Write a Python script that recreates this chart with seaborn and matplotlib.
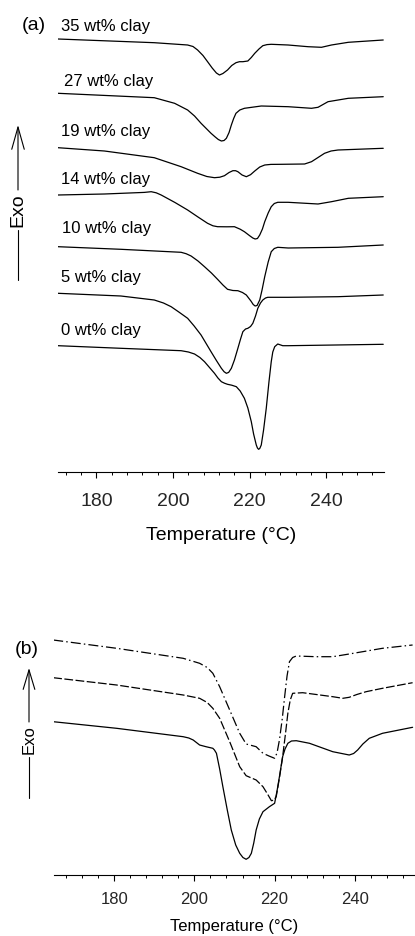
import matplotlib
matplotlib.use("Agg")
import matplotlib.pyplot as plt
import seaborn as sns
from matplotlib.patches import FancyArrowPatch
from matplotlib.ticker import MultipleLocator

# ---- panel (a): DSC heating traces, one per clay loading (heat flow in a.u., offset) ----
t_35 = [170, 195.1, 203.8, 205.2, 206.4, 207.8, 209.0, 210.2, 211.3, 212.1, 213.0, 214.2, 215.3, 216.4, 217.3, 218.2, 219.5, 220.4, 221.3, 222.4, 223.4, 224.5, 225.6, 230.0, 235.2, 238.7, 241.3, 245.7, 254.8]
h_35 = [433, 429.3, 427, 425.5, 422, 416.5, 410.3, 404, 399, 397, 398.5, 402, 406.5, 409.3, 410.3, 410.3, 411, 414.5, 418.7, 423, 426.3, 427.4, 427.7, 427, 425.3, 424.7, 427, 429.7, 432]

t_27 = [170, 195.1, 200.4, 203.8, 205.6, 207.3, 209.9, 211.0, 211.8, 212.6, 213.3, 213.9, 214.6, 215.2, 215.8, 216.4, 217.4, 218.6, 223.0, 230.0, 236.1, 237.8, 240.4, 245.7, 254.8]
h_27 = [378.7, 374.3, 368.7, 362, 356, 348.7, 338.7, 335, 332.5, 331, 331.5, 333.7, 339.5, 347, 353.5, 358.7, 362, 363.7, 366, 365.3, 363.7, 364.7, 370.3, 373.7, 375.3]

t_19 = [170, 182.1, 195.1, 202.1, 206.4, 208.8, 210.8, 212.2, 213.4, 214.6, 215.6, 216.3, 216.9, 218.0, 219.1, 220.2, 221.3, 222.6, 223.9, 225.5, 228.2, 234.3, 236.1, 237.8, 239.5, 241.2, 243.0, 254.8]
h_19 = [324.3, 321, 314.3, 305.3, 298.7, 295.5, 294.3, 294.8, 296.3, 299.5, 301.3, 301.3, 300.3, 297, 295.3, 297.3, 301, 305, 307, 307.6, 307.7, 308, 310.3, 314.5, 318.7, 321, 322, 323.7]

t_14 = [170, 182.1, 192.5, 194.3, 195.6, 196.9, 200.5, 203.8, 206.5, 209.0, 210.4, 211.6, 214.0, 216.0, 217.5, 218.6, 220.0, 220.8, 221.4, 222.0, 222.6, 223.3, 223.9, 224.8, 225.6, 226.4, 227.3, 230.0, 237.8, 241.3, 245.7, 254.8]
h_14 = [277, 278, 279.6, 280.3, 279.2, 277, 269.5, 262, 255, 248.7, 246.2, 245.3, 245.2, 245.3, 242.8, 240.3, 236.2, 234, 233, 233.5, 237, 243, 250.3, 259, 265.3, 268.5, 269.7, 269.7, 268, 270.3, 273.7, 275.3]

t_10 = [170, 186.4, 202.1, 203.4, 204.7, 206.5, 208.2, 210.0, 211.6, 213.0, 214.2, 215.6, 216.9, 218.1, 219.1, 220.3, 220.9, 221.4, 221.9, 222.6, 223.2, 223.9, 224.8, 225.6, 226.4, 227.3, 230.0, 243.0, 254.8]
h_10 = [225.3, 222.7, 219.7, 218.3, 216, 211, 205.3, 199, 192.7, 187, 182.7, 181.5, 181.3, 179.5, 177, 171, 167.5, 166, 166.5, 172, 182, 195.3, 210, 220.3, 223.5, 224.7, 224, 224.7, 227]

t_5 = [170, 186.4, 195.1, 197.5, 199.5, 201.5, 203.8, 205.5, 207.3, 209.9, 211.3, 212.6, 213.3, 213.9, 214.5, 215.2, 216.0, 216.9, 217.6, 218.2, 218.9, 219.5, 220.2, 220.8, 221.5, 222.1, 222.8, 223.4, 224.1, 224.7, 230.0, 243.0, 254.8]
h_5 = [178.7, 176, 172, 169, 165.3, 160, 153.7, 146, 137, 120.3, 111.5, 103.7, 100.3, 98.7, 99.6, 103.7, 112, 123.7, 133, 140.3, 143, 143.7, 145.5, 148.7, 156, 163.7, 169, 172, 174, 174.7, 174.7, 175.3, 177]

t_0 = [170, 186.4, 202.1, 204.0, 205.6, 207.0, 208.2, 209.5, 210.8, 211.7, 212.6, 213.4, 214.2, 215.3, 216.5, 217.5, 218.6, 219.5, 220.4, 221.0, 221.7, 222.0, 222.3, 222.6, 223.0, 223.6, 224.3, 225.0, 225.6, 226.0, 226.5, 227.3, 228.6, 230.0, 254.8]
h_0 = [126.3, 123.7, 121.3, 120, 118, 114.5, 110.3, 104.5, 98.7, 94, 90.3, 88.8, 87.7, 86.8, 85.3, 81, 73.7, 64, 50.3, 38, 27, 24, 22.7, 23.5, 27, 42, 63.7, 90, 110.3, 120, 125.3, 128, 126.3, 126.3, 127.7]

labels_a = ["35 wt% clay", "27 wt% clay", "19 wt% clay", "14 wt% clay",
            "10 wt% clay", "5 wt% clay", "0 wt% clay"]
label_x_a = [170.9, 171.6, 170.9, 170.9, 171.1, 170.9, 170.9]
label_y_a = [441, 386, 336, 288, 238.7, 190.3, 137]

# ---- panel (b): three traces ----
t_solid = [164.8, 180.6, 197.2, 198.6, 199.7, 200.5, 201.3, 202.9, 204.6, 205.0, 205.5, 206.3, 207.1, 208.2, 209.2, 210.3, 211.3, 212.1, 212.9, 213.6, 214.2, 214.8, 215.4, 216.2, 217.1, 218.7, 220.0, 220.6, 221.2, 222.0, 222.6, 223.3, 224.2, 225.4, 228.7, 234.5, 238.6, 239.7, 240.7, 242.0, 243.6, 246.9, 254.4]
h_solid = [153.3, 146.7, 138.3, 137, 135, 132.5, 130, 128.3, 126.7, 125, 121.7, 106, 88.3, 65, 45, 30, 21.7, 17.5, 15.7, 17.5, 21.7, 32, 45, 56, 63.3, 68.3, 71.7, 84, 98.3, 118.3, 126, 131.7, 134, 134.3, 131.7, 123.3, 120, 121.5, 125, 131, 136.7, 141.7, 147.7]

t_dash = [164.8, 180.6, 197.2, 201.3, 203.2, 204.6, 206.3, 208.8, 211.3, 212.9, 215.4, 217.1, 218.3, 219.2, 219.8, 220.4, 221.2, 222.0, 222.7, 223.3, 223.9, 224.5, 227.0, 234.5, 237.0, 238.6, 240.5, 242.8, 246.9, 254.4]
h_dash = [197.3, 190, 180, 176.7, 172.5, 166.7, 156.7, 133.3, 108.3, 99.3, 95, 88.3, 80.5, 74.3, 74.8, 78.3, 97, 118.3, 141, 161.7, 175, 181.7, 182.3, 178.3, 176.7, 177.7, 180.5, 183.3, 186.7, 192.3]

t_dashdot = [164.8, 180.6, 197.2, 201.3, 203.2, 204.6, 206.3, 208.8, 211.3, 212.9, 215.4, 217.1, 218.6, 220.0, 220.6, 221.2, 221.9, 222.5, 223.1, 223.7, 224.5, 225.4, 230.3, 234.5, 238.6, 246.9, 254.4]
h_dashdot = [235, 226.7, 216.7, 211.7, 207.5, 201.7, 188.3, 165, 141.7, 131, 128.3, 121.7, 119, 116.7, 122, 135, 156, 178.3, 199, 213.3, 217.5, 219, 218.3, 218.3, 221, 226.7, 230]

sns.set_theme(style="white")
plt.rcParams["font.family"] = ["Liberation Sans", "DejaVu Sans"]

W, H = 415, 936
fig = plt.figure(figsize=(W / 100, H / 100), dpi=100)


def style_axis(ax, fs, major_len, minor_len, pad):
    sns.despine(ax=ax, left=True, top=True, right=True)
    ax.spines["bottom"].set_color("black")
    ax.spines["bottom"].set_linewidth(0.8)
    ax.set_yticks([])
    ax.xaxis.set_major_locator(MultipleLocator(20))
    ax.xaxis.set_minor_locator(MultipleLocator(4))
    ax.tick_params(axis="x", which="major", direction="out", length=major_len,
                   width=0.8, color="black", labelsize=fs, pad=pad, bottom=True)
    ax.tick_params(axis="x", which="minor", direction="out", length=minor_len,
                   width=0.7, color="black", bottom=True)
    ax.set_facecolor("white")
    ax.set_ylabel("")


def exo_arrow(x, tip, shaft_end, txt_y, line_top, line_bot, fs, hl, hw):
    arr = FancyArrowPatch((x / W, 1 - shaft_end / H), (x / W, 1 - tip / H),
                          transform=fig.transFigure, color="black", lw=0.8,
                          arrowstyle=f"->,head_length={hl},head_width={hw}",
                          mutation_scale=1, shrinkA=0, shrinkB=0)
    fig.add_artist(arr)
    fig.add_artist(plt.Line2D([x / W, x / W], [1 - line_top / H, 1 - line_bot / H],
                              transform=fig.transFigure, color="black", lw=0.8))
    fig.text(x / W, 1 - txt_y / H, "Exo", rotation=90, ha="center", va="center",
             fontsize=fs, color="black")


# panel (a)
ax1 = fig.add_axes([58 / W, 1 - 472 / H, 326 / W, 442 / H])
for t, h in [(t_35, h_35), (t_27, h_27), (t_19, h_19), (t_14, h_14),
             (t_10, h_10), (t_5, h_5), (t_0, h_0)]:
    sns.lineplot(x=t, y=h, ax=ax1, color="black", lw=0.9)
for lab, lx, ly in zip(labels_a, label_x_a, label_y_a):
    ax1.text(lx, ly, lab, fontsize=12, ha="left", va="baseline", color="black")
ax1.set_xlim(170, 255)
ax1.set_ylim(0, 442)
style_axis(ax1, 14, 4, 2.2, 11)
ax1.set_xlabel("Temperature (°C)", fontsize=14, labelpad=12, color="black")

# panel (b)
ax2 = fig.add_axes([54 / W, 1 - 875 / H, 361 / W, 245 / H])
sns.lineplot(x=t_dashdot, y=h_dashdot, ax=ax2, color="black", lw=0.9,
             linestyle=(0, (8, 2.5, 1.2, 2.5)))
sns.lineplot(x=t_dash, y=h_dash, ax=ax2, color="black", lw=0.9,
             linestyle=(0, (7, 2)))
sns.lineplot(x=t_solid, y=h_solid, ax=ax2, color="black", lw=0.9)
ax2.set_xlim(165, 255)
ax2.set_ylim(0, 245)
style_axis(ax2, 12, 4, 1.8, 8.5)
ax2.set_xlabel("Temperature (°C)", fontsize=12, labelpad=8.5, color="black")

# panel letters and Exo arrows
fig.text(22 / W, 1 - 25 / H, "(a)", fontsize=14, ha="left", va="center", color="black")
fig.text(15 / W, 1 - 650 / H, "(b)", fontsize=14, ha="left", va="center", color="black")
exo_arrow(18, 125, 190, 210, 230, 280, 14, 16, 4.5)
exo_arrow(29, 668, 722, 740, 757, 798, 12, 14, 4.2)

fig.savefig("out.png", dpi=100, facecolor="white")
